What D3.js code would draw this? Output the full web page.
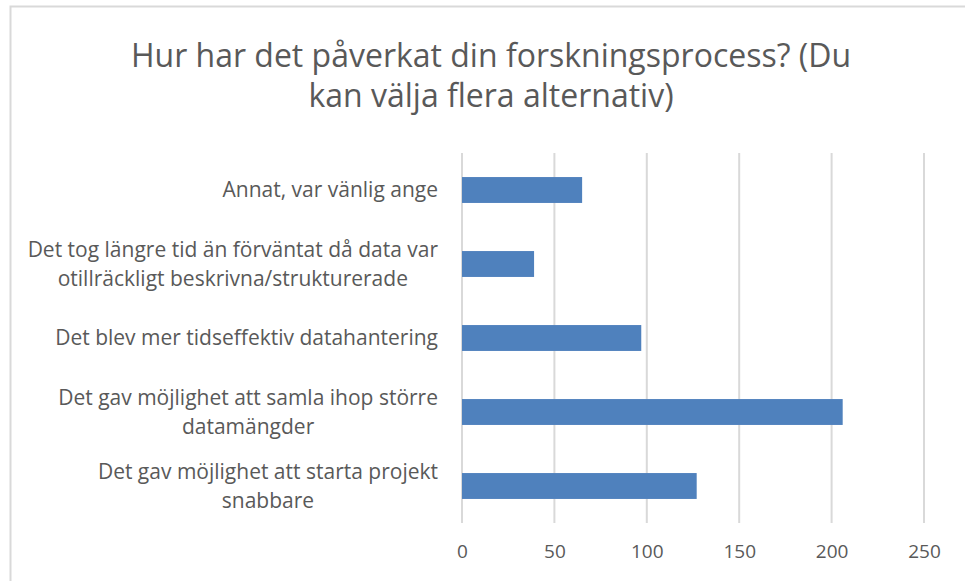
<!DOCTYPE html>
<html>
<head>
  <meta charset='utf-8'>
  <title>Hur har det påverkat din forskningsprocess?</title>
  <style>
    body { margin: 0; background: #ffffff; }
    svg text { font-family: 'Open Sans', 'Noto Sans', sans-serif; fill: #595959; }
  </style>
  <script src='https://cdn.jsdelivr.net/npm/d3@7'></script>
</head>
<body>
  <svg id='chart'></svg>
  <script>
    // data, top to bottom
    const titleLines = ['Hur har det påverkat din forskningsprocess? (Du', 'kan välja flera alternativ)'];
    const categories = [
      ['Annat, var vänlig ange'],
      ['Det tog längre tid än förväntat då data var', 'otillräckligt beskrivna/strukturerade'],
      ['Det blev mer tidseffektiv datahantering'],
      ['Det gav möjlighet att samla ihop större', 'datamängder'],
      ['Det gav möjlighet att starta projekt', 'snabbare']
    ];
    const values = [65, 39, 97, 206, 127];
    const xTicks = [0, 50, 100, 150, 200, 250];

    const width = 965;
    const height = 581;
    const margin = { top: 153, right: 41, bottom: 58, left: 462 };

    const svg = d3.select('#chart')
        .attr('width', width)
        .attr('height', height);

    // chart frame (only top and left edges are in view)
    svg.append('path')
        .attr('d', `M10.5,${height} V6.5 H${width}`)
        .attr('fill', 'none')
        .attr('stroke', '#d9d9d9')
        .attr('stroke-width', 2);

    const x = d3.scaleLinear()
        .domain([0, 250])
        .range([margin.left, width - margin.right]);
    const y = d3.scaleBand()
        .domain(d3.range(categories.length))
        .range([margin.top, height - margin.bottom])
        .paddingInner(0.65)
        .paddingOuter(0.325);

    // title
    svg.append('text')
        .attr('x', 491)
        .attr('y', 67)
        .attr('text-anchor', 'middle')
        .style('font-size', '32px')
        .selectAll('tspan')
        .data(titleLines)
        .join('tspan')
            .attr('x', 491)
            .attr('dy', (d, i) => i === 0 ? 0 : 40)
            .text(d => d);

    // vertical gridlines
    svg.append('g')
        .selectAll('line')
        .data(xTicks)
        .join('line')
            .attr('x1', d => x(d))
            .attr('x2', d => x(d))
            .attr('y1', margin.top)
            .attr('y2', height - margin.bottom)
            .attr('stroke', '#d9d9d9')
            .attr('stroke-width', 2);

    // bars
    svg.append('g')
        .selectAll('rect')
        .data(values)
        .join('rect')
            .attr('x', x(0))
            .attr('y', (d, i) => y(i))
            .attr('width', d => x(d) - x(0))
            .attr('height', y.bandwidth())
            .attr('fill', '#4f81bd');

    // x axis tick labels
    const xAxis = d3.axisBottom(x)
        .tickValues(xTicks)
        .tickSize(0)
        .tickPadding(22);
    const gX = svg.append('g')
        .attr('transform', `translate(0, ${height - margin.bottom})`)
        .call(xAxis);
    gX.select('.domain').remove();
    gX.selectAll('text')
        .style('font-size', '19px')
        .attr('fill', '#595959');

    // category labels: block right aligned, lines centred within block
    const labelRight = 438;
    const lineGap = 29;
    categories.forEach((lines, i) => {
        const cy = y(i) + y.bandwidth() / 2;
        const g = svg.append('g');
        const texts = g.selectAll('text')
            .data(lines)
            .join('text')
                .attr('y', (d, j) => cy + (j - (lines.length - 1) / 2) * lineGap)
                .attr('dy', '0.35em')
                .attr('text-anchor', 'middle')
                .style('font-size', '21px')
                .text(d => d);
        const blockWidth = d3.max(texts.nodes(), n => n.getComputedTextLength());
        texts.attr('x', labelRight - blockWidth / 2);
    });
  </script>
</body>
</html>
